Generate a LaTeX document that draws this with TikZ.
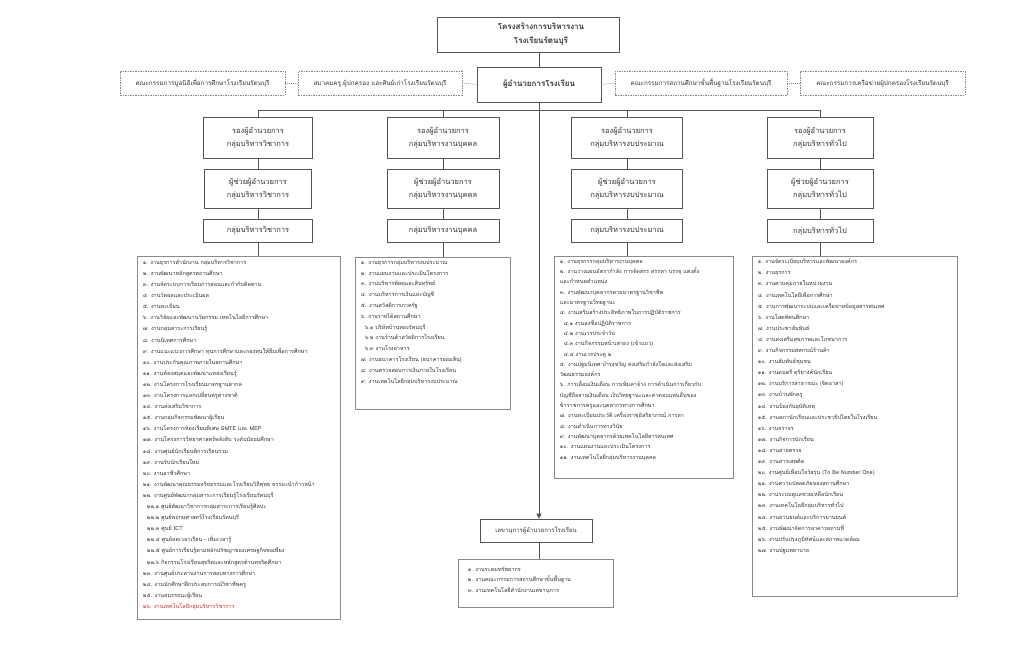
\documentclass[tikz,border=0pt]{standalone}
\usepackage{fontspec}
\setmainfont[Script=Thai]{Loma}
\usetikzlibrary{arrows.meta}
\definecolor{edge}{HTML}{555555}
\definecolor{ledge}{HTML}{8A8A8A}
\definecolor{txt}{HTML}{333333}
\definecolor{redtxt}{HTML}{E02A2A}
\begin{document}
\begin{tikzpicture}[x=1pt,y=-1pt,
  box/.style={draw=edge, line width=0.6pt, fill=white, align=center, inner sep=0pt, text=txt, font=\fontsize{7.5}{13}\selectfont},
  dbox/.style={draw=ledge, line width=0.5pt, dash pattern=on 1.5pt off 1pt, fill=white, align=center, inner sep=0pt, text=txt, font=\fontsize{6.3}{10}\selectfont, minimum height=24pt},
  listbox/.style={draw=ledge, line width=0.6pt, fill=white, inner sep=0pt},
  listtext/.style={anchor=north west, align=left, inner sep=0pt, text=txt, font=\fontsize{5.5}{11.1}\selectfont},
  conn/.style={draw=edge, line width=0.5pt},
  dconn/.style={draw=ledge, line width=0.5pt, dash pattern=on 1pt off 1pt}
]
\useasboundingbox (0,0) rectangle (1024,653);
\fill[white] (0,0) rectangle (1024,653);

% title
\node[box, minimum width=182pt, minimum height=35pt] (title) at (528,34.5) {};
\node[align=center, inner sep=0pt, text=txt, font=\bfseries\fontsize{8}{14}\selectfont] (titletext) at (541,34.5) {โครงสร้างการบริหารงาน\\โรงเรียนรัตนบุรี};

% committee row
\node[dbox, minimum width=165pt] (c1) at (202.5,83) {คณะกรรมการมูลนิธิเพื่อการศึกษาโรงเรียนรัตนบุรี};
\node[dbox, minimum width=164pt] (c2) at (380,83) {สมาคมครู ผู้ปกครอง และศิษย์เก่าโรงเรียนรัตนบุรี};
\node[box, minimum width=124pt, minimum height=35pt, font=\bfseries\fontsize{8}{14}\selectfont] (dir) at (539,84.5) {ผู้อำนวยการโรงเรียน};
\node[dbox, minimum width=172pt] (c3) at (701,83) {คณะกรรมการสถานศึกษาขั้นพื้นฐานโรงเรียนรัตนบุรี};
\node[dbox, minimum width=165pt] (c4) at (882.5,83) {คณะกรรมการเครือข่ายผู้ปกครองโรงเรียนรัตนบุรี};

\draw[dconn] (c1.east) -- (c2.west);
\draw[dconn] (c2.east) -- (dir.west);
\draw[dconn] (dir.east) -- (c3.west);
\draw[dconn] (c3.east) -- (c4.west);

% branch
\coordinate (b1) at (258,110);
\coordinate (b2) at (443,110);
\coordinate (b4) at (820,110);
\coordinate (b3) at (627,110);

% column 1
\node[box, minimum width=109pt, minimum height=41pt] (a1) at (258,137.5) {รองผู้อำนวยการ\\กลุ่มบริหารวิชาการ};
\node[box, minimum width=107pt, minimum height=39pt] (a2) at (258,188.5) {ผู้ช่วยผู้อำนวยการ\\กลุ่มบริหารวิชาการ};
\node[box, minimum width=109pt, minimum height=23pt] (a3) at (258,230.5) {กลุ่มบริหารวิชาการ};
% column 2
\node[box, minimum width=112pt, minimum height=41pt] (p1) at (443,137.5) {รองผู้อำนวยการ\\กลุ่มบริหารงานบุคคล};
\node[box, minimum width=112pt, minimum height=39pt] (p2) at (443,188.5) {ผู้ช่วยผู้อำนวยการ\\กลุ่มบริหารงานบุคคล};
\node[box, minimum width=112pt, minimum height=23pt] (p3) at (443,230.5) {กลุ่มบริหารงานบุคคล};
% column 3
\node[box, minimum width=111pt, minimum height=41pt] (g1) at (627,137.5) {รองผู้อำนวยการ\\กลุ่มบริหารงบประมาณ};
\node[box, minimum width=111pt, minimum height=39pt] (g2) at (627,188.5) {ผู้ช่วยผู้อำนวยการ\\กลุ่มบริหารงบประมาณ};
\node[box, minimum width=111pt, minimum height=23pt] (g3) at (627,230.5) {กลุ่มบริหารงบประมาณ};
% column 4
\node[box, minimum width=106pt, minimum height=41pt] (t1) at (820,137.5) {รองผู้อำนวยการ\\กลุ่มบริหารทั่วไป};
\node[box, minimum width=106pt, minimum height=39pt] (t2) at (820,188.5) {ผู้ช่วยผู้อำนวยการ\\กลุ่มบริหารทั่วไป};
\node[box, minimum width=106pt, minimum height=23pt] (t3) at (820,230.5) {กลุ่มบริหารทั่วไป};

% list boxes
\node[listbox, minimum width=203pt, minimum height=363pt] (l1) at (238.5,437.5) {};
\node[listbox, minimum width=155pt, minimum height=152pt] (l2) at (432.5,333) {};
\node[listbox, minimum width=179pt, minimum height=222pt] (l3) at (643.5,367) {};
\node[listbox, minimum width=205pt, minimum height=340pt] (l4) at (854.5,426) {};

% secretary
\node[box, minimum width=112pt, minimum height=23pt, font=\fontsize{6}{10}\selectfont] (sec) at (536,530.5) {เลขานุการผู้อำนวยการโรงเรียน};
\node[listbox, minimum width=155pt, minimum height=48pt] (l5) at (535.5,583) {};

% connectors
\draw[conn] (title.south -| dir.north) -- (dir.north);
\draw[conn] (b1) -- (b4);
\draw[conn] (b1) -- (a1.north);
\draw[conn] (b2) -- (p1.north);
\draw[conn] (b3) -- (g1.north);
\draw[conn] (b4) -- (t1.north);
\draw[conn] (a1) -- (a2);
\draw[conn] (a2) -- (a3);
\draw[conn] (p1) -- (p2);
\draw[conn] (p2) -- (p3);
\draw[conn] (g1) -- (g2);
\draw[conn] (g2) -- (g3);
\draw[conn] (t1) -- (t2);
\draw[conn] (t2) -- (t3);
\draw[conn] (a3.south) -- (a3.south |- l1.north);
\draw[conn] (p3.south) -- (p3.south |- l2.north);
\draw[conn] (g3.south) -- (g3.south |- l3.north);
\draw[conn] (t3.south) -- (t3.south |- l4.north);
\draw[conn, -{Triangle[length=5pt,width=5pt]}] (dir.south) -- (dir.south |- sec.north);
\draw[conn] (sec.south -| dir.south) -- (l5.north -| dir.south);

% list texts
\node[listtext] (x1) at ([xshift=6pt,yshift=-4pt]l1.north west) {%
๑. งานธุรการสำนักงาน กลุ่มบริหารวิชาการ\\
๒. งานพัฒนาหลักสูตรสถานศึกษา\\
๓. งานจัดระบบการเรียนการสอนและกำกับติดตาม\\
๔. งานวัดผลและประเมินผล\\
๕. งานทะเบียน\\
๖. งานวิจัยและพัฒนานวัตกรรม เทคโนโลยีการศึกษา\\
๗. งานกลุ่มสาระการเรียนรู้\\
๘. งานนิเทศการศึกษา\\
๙. งานแนะแนวการศึกษา ทุนการศึกษาและกองทุนให้ยืมเพื่อการศึกษา\\
๑๐. งานประกันคุณภาพภายในสถานศึกษา\\
๑๑. งานห้องสมุดและพัฒนาแหล่งเรียนรู้\\
๑๒. งานโครงการโรงเรียนมาตรฐานสากล\\
๑๓. งานโครงการแลกเปลี่ยนครูต่างชาติ\\
๑๔. งานส่งเสริมวิชาการ\\
๑๕. งานกลุ่มกิจกรรมพัฒนาผู้เรียน\\
๑๖. งานโครงการห้องเรียนพิเศษ SMTE และ MEP\\
๑๗. งานโครงการวิทยาศาสตร์พลังสิบ ระดับมัธยมศึกษา\\
๑๘. งานศูนย์นักเรียนพิการเรียนรวม\\
๑๙. งานรับนักเรียนใหม่\\
๒๐. งานอาชีวศึกษา\\
๒๑. งานพัฒนาคุณธรรมจริยธรรมและโรงเรียนวิถีพุทธ ธรรมะนำก้าวหน้า\\
๒๒. งานศูนย์พัฒนากลุ่มสาระการเรียนรู้โรงเรียนรัตนบุรี\\
\hspace*{4pt}๒๒.๑ ศูนย์พัฒนาวิชาการกลุ่มสาระการเรียนรู้ศิลปะ\\
\hspace*{4pt}๒๒.๒ ศูนย์พฤกษศาสตร์โรงเรียนรัตนบุรี\\
\hspace*{4pt}๒๒.๓ ศูนย์ ICT\\
\hspace*{4pt}๒๒.๔ ศูนย์ลดเวลาเรียน - เพิ่มเวลารู้\\
\hspace*{4pt}๒๒.๕ ศูนย์การเรียนรู้ตามหลักปรัชญาของเศรษฐกิจพอเพียง\\
\hspace*{4pt}๒๒.๖ กิจกรรมโรงเรียนสุจริตและหลักสูตรต้านทุจริตศึกษา\\
๒๓. งานศูนย์ประสานงานการสอบทางการศึกษา\\
๒๔. งานนักศึกษาฝึกประสบการณ์วิชาชีพครู\\
๒๕. งานสมรรถนะผู้เรียน\\
\textcolor{redtxt}{๒๖. งานเทคโนโลยีกลุ่มบริหารวิชาการ}};

\node[listtext, font=\fontsize{5.5}{10.8}\selectfont] (x2) at ([xshift=6pt,yshift=-3pt]l2.north west) {%
๑. งานธุรการกลุ่มบริหารงบประมาณ\\
๒. งานแผนงานและประเมินโครงการ\\
๓. งานบริหารพัสดุและสินทรัพย์\\
๔. งานบริหารการเงินและบัญชี\\
๕. งานสวัสดิการภาครัฐ\\
๖. งานรายได้สถานศึกษา\\
\hspace*{4pt}๖.๑ บริษัทบ้านทองรัตนบุรี\\
\hspace*{4pt}๖.๒ งานร้านค้าสวัสดิการโรงเรียน\\
\hspace*{4pt}๖.๓ งานโรงอาหาร\\
๗. งานธนาคารโรงเรียน (ธนาคารออมสิน)\\
๘. งานตรวจสอบการเงินภายในโรงเรียน\\
๙. งานเทคโนโลยีกลุ่มบริหารงบประมาณ};

\node[listtext, font=\fontsize{5.5}{10.3}\selectfont] (x3) at ([xshift=6pt,yshift=-3pt]l3.north west) {%
๑. งานธุรการกลุ่มบริหารงานบุคคล\\
๒. งานวางแผนอัตรากำลัง การจัดสรร สรรหา บรรจุ แต่งตั้ง\\
และกำหนดตำแหน่ง\\
๓. งานพัฒนาบุคลากรตามมาตรฐานวิชาชีพ\\
และมาตรฐานวิทยฐานะ\\
๔. งานเสริมสร้างประสิทธิภาพในการปฏิบัติราชการ\\
\hspace*{4pt}๔.๑ งานลงชื่อปฏิบัติราชการ\\
\hspace*{4pt}๔.๒ งานเวรประจำวัน\\
\hspace*{4pt}๔.๓ งานกิจกรรมหน้าเสาธง (เข้าแถว)\\
\hspace*{4pt}๔.๔ งานเวรประตู ๒\\
๕. งานปฐมนิเทศ บำรุงขวัญ ส่งเสริมกำลังใจและส่งเสริม\\
วัฒนธรรมองค์กร\\
๖. การเลื่อนเงินเดือน การเพิ่มค่าจ้าง การดำเนินการเกี่ยวกับ\\
บัญชีถือจ่ายเงินเดือน เงินวิทยฐานะและค่าตอบแทนอื่นของ\\
ข้าราชการครูและบุคลากรทางการศึกษา\\
๗. งานทะเบียนประวัติ เครื่องราชอิสริยาภรณ์ การลา\\
๘. งานดำเนินการทางวินัย\\
๙. งานพัฒนาบุคลากรด้วยเทคโนโลยีสารสนเทศ\\
๑๐. งานแผนงานและประเมินโครงการ\\
๑๑. งานเทคโนโลยีกลุ่มบริหารงานบุคคล};

\node[listtext] (x4) at ([xshift=6pt,yshift=-3pt]l4.north west) {%
๑. งานจัดระเบียบบริหารและพัฒนาองค์กร\\
๒. งานธุรการ\\
๓. งานควบคุมภายในหน่วยงาน\\
๔. งานเทคโนโลยีเพื่อการศึกษา\\
๕. งานการพัฒนาระบบและเครือข่ายข้อมูลสารสนเทศ\\
๖. งานโสตทัศนศึกษา\\
๗. งานประชาสัมพันธ์\\
๘. งานส่งเสริมสุขภาพและโภชนาการ\\
๙. งานกิจกรรมสหกรณ์ร้านค้า\\
๑๐. งานสัมพันธ์ชุมชน\\
๑๑. งานดนตรี ดุริยางค์นักเรียน\\
๑๒. งานบริการสาธารณะ (จิตอาสา)\\
๑๓. งานบ้านพักครู\\
๑๔. งานป้องกันอุบัติเหตุ\\
๑๕. งานสภานักเรียนและประชาธิปไตยในโรงเรียน\\
๑๖. งานจราจร\\
๑๗. งานกิจการนักเรียน\\
๑๘. งานสายตรวจ\\
๑๙. งานสารเสพติด\\
๒๐. งานศูนย์เพื่อนใจวัยรุ่น (To Be Number One)\\
๒๑. งานความปลอดภัยของสถานศึกษา\\
๒๒. งานระบบดูแลช่วยเหลือนักเรียน\\
๒๓. งานเทคโนโลยีกลุ่มบริหารทั่วไป\\
๒๔. งานยานยนต์และบริการยานยนต์\\
๒๕. งานพัฒนาจัดการอาคารสถานที่\\
๒๖. งานปรับปรุงภูมิทัศน์และสภาพแวดล้อม\\
๒๗. งานปฐมพยาบาล};

\node[listtext, font=\fontsize{5.5}{10.5}\selectfont] (x5) at ([xshift=10pt,yshift=-8pt]l5.north west) {%
๑. งานระดมทรัพยากร\\
๒. งานคณะกรรมการสถานศึกษาขั้นพื้นฐาน\\
๓. งานเทคโนโลยีสำนักงานเลขานุการ};
\end{tikzpicture}
\end{document}
